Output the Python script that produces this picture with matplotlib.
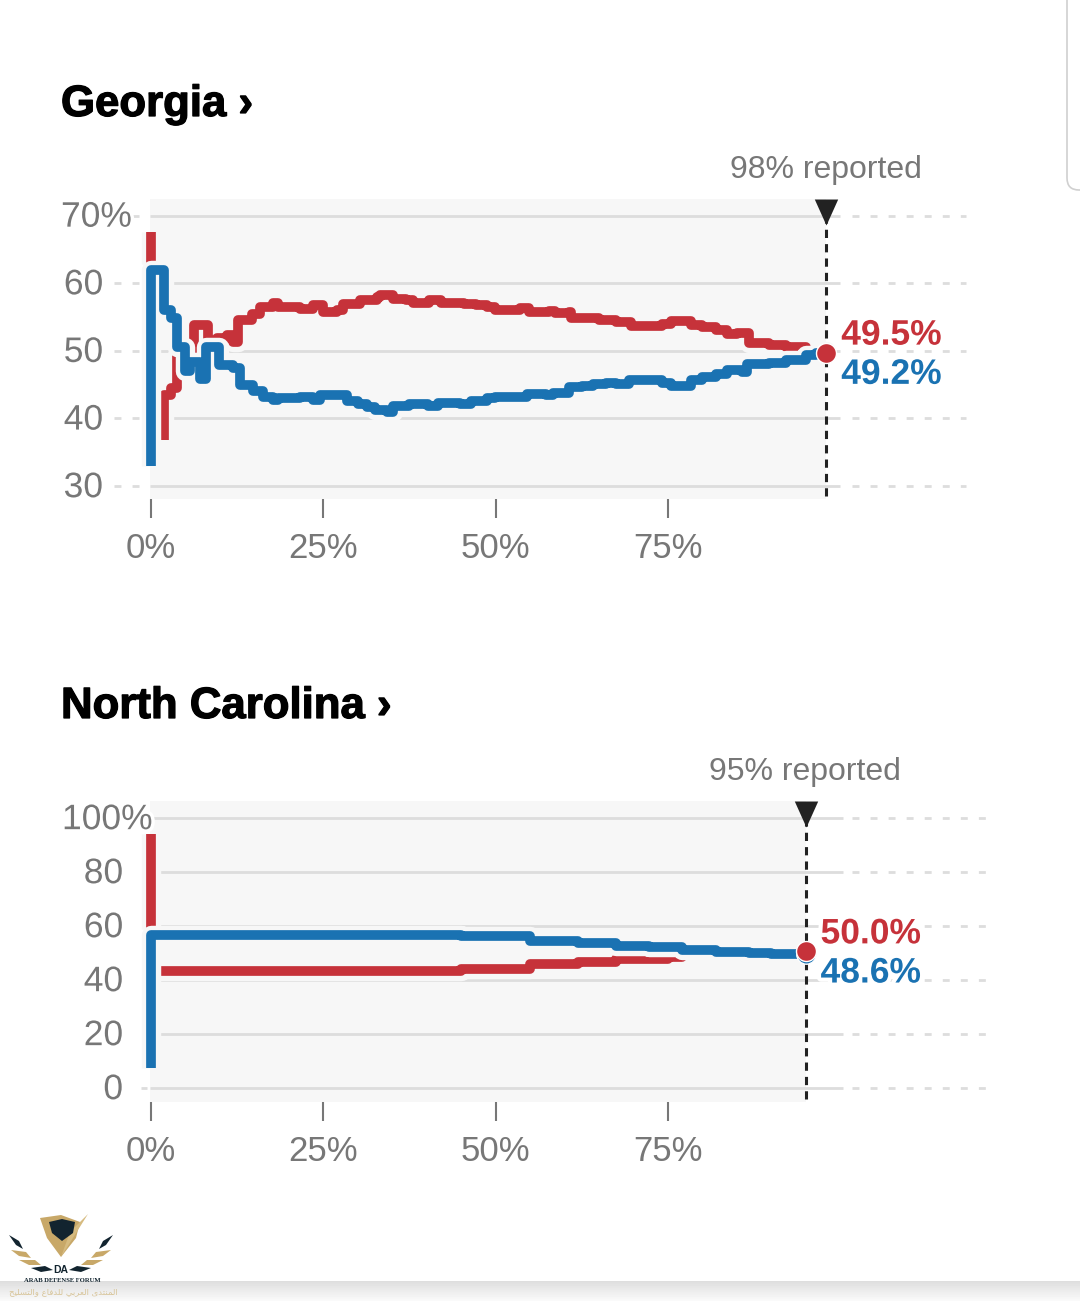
import numpy as np
import matplotlib
matplotlib.use('Agg')
import matplotlib.pyplot as plt
import matplotlib.patheffects as pe
from matplotlib.patches import FancyBboxPatch, Polygon

W, H = 1080, 1301

RED = '#c6323a'
BLUE = '#1a72b2'
GREY = '#777777'
GRID = '#dddddd'
PANEL = '#f7f7f7'

# Georgia
ga_blue_x = [0, 0, 1.9, 2.9, 3.8, 4.9, 5.6, 7.1, 8.0, 9.8, 11.9, 12.9, 14.8, 16.2, 17.7, 18.5, 21.6, 23.5, 24.5,
             27.4, 28.4, 30, 31.3, 32.5, 34.2, 35.1, 37.5, 40.2, 41.6, 44.8, 46.5, 48.7, 49.9, 53, 54.6, 57.4, 58.3,
             60.7, 62.6, 64.1, 66, 67.5, 69.4, 74.2, 75.5, 78.4, 80, 82, 83.6, 85.8, 86.5, 89.7, 92.2, 95, 96.5, 98]
ga_blue_y = [33, 62, 56, 54.9, 50.6, 47, 48.4, 45.8, 50.6, 47.9, 47.5, 45, 44, 43.2, 42.7, 43, 43.2, 42.7, 43.5,
             43.5, 42.5, 42.2, 41.7, 41.3, 41, 41.8, 42.1, 41.8, 42.3, 42.1, 42.6, 43, 43.2, 43.1, 43.6, 43.5, 43.7,
             44.6, 44.8, 45.1, 45.3, 45.1, 45.7, 45.2, 44.8, 45.7, 46.1, 46.6, 47.1, 46.9, 48.1, 48.2, 48.7, 49.4,
             49.6, 49.7]
ga_red_open_x = [0, 0]
ga_red_open_y = [67.6, 62.8]
ga_red_x = [1.9, 1.9, 2.9, 3.8, 4.9, 6.2, 8.3, 9.6, 11, 11.9, 12.6, 14.6, 15.8, 17.7, 18.5, 21.6, 23.5, 25,
            27, 27.8, 30.3, 32.8, 33.2, 35.1, 37, 38, 40.4, 42.1, 44.8, 45.5, 47.2, 48.7, 49.9, 53.5, 54.9, 57.8,
            58.6, 60.7, 61, 63.6, 65, 67.5, 69.7, 74.2, 75.5, 78.4, 80, 82, 83.6, 85.1, 86.8, 89.7, 92.2, 95, 98]
ga_red_y = [36.8, 43.4, 44.5, 49.4, 50, 53.8, 50, 51.9, 52.3, 51.3, 54.5, 55.5, 56.5, 57, 56.4, 56.2, 56.8, 55.8,
            56, 56.9, 57.5, 58, 58.2, 57.6, 57.5, 57.1, 57.5, 57, 57.1, 56.9, 56.8, 56.5, 56.1, 56.3, 55.8, 55.9,
            55.6, 55.8, 54.8, 54.9, 54.5, 54.3, 53.7, 54, 54.4, 53.8, 53.5, 53, 52.5, 52.6, 51.1, 50.9, 50.5, 50,
            49.75]
ga_yticks = [30, 40, 50, 60, 70]
ga_reported = 98

# North Carolina
nc_blue_x = [0, 0, 45, 55, 62, 67.5, 72.3, 77, 82, 86.8, 90, 95]
nc_blue_y = [7.4, 56.7, 56.3, 54.6, 53.6, 52.6, 52.2, 51, 50.5, 50, 49.6, 49.6]
nc_red_open_x = [0, 0]
nc_red_open_y = [94, 59]
nc_red_x = [0, 45, 55, 62, 67.5, 72.3, 75, 77, 79, 95]
nc_red_y = [43.4, 44, 45.9, 46.8, 47.7, 47.9, 48.6, 49.2, 49.8, 50.7]
nc_yticks = [0, 20, 40, 60, 80, 100]
nc_reported = 95

xticks = [0, 25, 50, 75]
xticklabels = ['0%', '25%', '50%', '75%']

PX_X = 6.89  # 每个百分点的像素宽度


def to_x(px):
    return (px - 151) / PX_X


def add_panel(fig, top, bottom, right, ymin, ymax):
    ax = fig.add_axes([151 / W, 1 - bottom / H, (right - 151) / W, (bottom - top) / H])
    ax.set_xlim(0, (right - 151) / PX_X)
    ax.set_ylim(ymin, ymax)
    ax.patch.set_alpha(0)
    for s in ax.spines.values():
        s.set_visible(False)
    ax.axvspan(to_x(150), ax.get_xlim()[1], color=PANEL, lw=0, zorder=0, clip_on=False)
    ax.set_yticks([])
    ax.set_xticks(xticks)
    ax.set_xticklabels(xticklabels, fontsize=25, color=GREY)
    ax.tick_params(axis='x', length=13.7, width=1.5, color=GREY, pad=10)
    return ax


def draw_grid(ax, yticks, right_px, end_px, left_from, left_to, left_ticks):
    dash = (0, (2.5, 4))
    for v in yticks:
        ax.plot([to_x(150), to_x(right_px + 14)], [v, v], color=GRID, lw=2, zorder=1, clip_on=False,
                solid_capstyle='butt')
        ax.plot([to_x(852), to_x(end_px)], [v, v], color=GRID, lw=2, zorder=1, clip_on=False,
                linestyle=dash, dash_capstyle='butt')
    for v in left_ticks:
        ax.plot([to_x(left_from), to_x(left_to)], [v, v], color=GRID, lw=2, zorder=1, clip_on=False,
                linestyle=dash, dash_capstyle='butt')


def draw_line(ax, x, y, color, z):
    ax.step(x, y, where='post', color=color, lw=7, zorder=z, clip_on=False,
            solid_joinstyle='round', solid_capstyle='butt',
            path_effects=[pe.Stroke(linewidth=14, foreground=PANEL), pe.Normal()])


def draw_ylabels(ax, yticks, num_right_px, top_left_px):
    halo = [pe.withStroke(linewidth=5, foreground='white')]
    for v in yticks:
        if v == yticks[-1]:
            ax.annotate(f'{v}%', (to_x(top_left_px), v), xytext=(0, -1.2), textcoords='offset points', fontsize=25.5,
                        color=GREY, ha='left', va='center', zorder=6, path_effects=halo, annotation_clip=False)
        else:
            ax.annotate(f'{v}', (to_x(num_right_px), v), xytext=(0, -1.2), textcoords='offset points', fontsize=25.5,
                        color=GREY, ha='right', va='center', zorder=6, path_effects=halo, annotation_clip=False)


def draw_end(ax, x, red_y, blue_y, marker_y, red_text, blue_text, red_label_y, blue_label_y):
    ax.plot([x, x], [ax.get_ylim()[0] + 0.01 * np.diff(ax.get_ylim())[0], marker_y], color='#222222', lw=2.2,
            linestyle=(0, (2.7, 2)), dash_capstyle='butt', zorder=4, clip_on=False)
    ax.plot([x], [marker_y], marker=[(-0.9, 1), (0.9, 1), (0, -1)], ms=18.7, color='#222222', mew=0,
            zorder=5, clip_on=False)
    ax.plot([x], [blue_y], 'o', ms=14, mfc=BLUE, mec='white', mew=1, zorder=7, clip_on=False)
    ax.plot([x], [red_y], 'o', ms=14.4, mfc=RED, mec='white', mew=1, zorder=8, clip_on=False)
    halo = [pe.withStroke(linewidth=6, foreground='white')]
    tx = x + 15 / PX_X
    ax.annotate(red_text, (tx, red_label_y), xytext=(0, -1.4), textcoords='offset points', fontsize=25.5,
                fontweight='bold', color=RED, va='center', ha='left', zorder=9, path_effects=halo,
                annotation_clip=False)
    ax.annotate(blue_text, (tx, blue_label_y), xytext=(0, -1.4), textcoords='offset points', fontsize=25.5,
                fontweight='bold', color=BLUE, va='center', ha='left', zorder=9, path_effects=halo,
                annotation_clip=False)


plt.rcParams['font.family'] = ['Liberation Sans', 'DejaVu Sans']

fig = plt.figure(figsize=(W / 100, H / 100), dpi=100, facecolor='white')

# 背景层：滚动条边框、底部阴影、水印
bg = fig.add_axes([0, 0, 1, 1], zorder=-1)
bg.set_xlim(0, W)
bg.set_ylim(H, 0)
bg.axis('off')
bg.add_patch(FancyBboxPatch((1067, -30), 40, 220, boxstyle='round,pad=0,rounding_size=12', fc='white',
                            ec='#d0d0d0', lw=1.2))
bg.imshow(np.linspace(0.87, 0.98, 20).reshape(-1, 1), extent=(0, W, 1301, 1281), cmap='gray', vmin=0, vmax=1,
          aspect='auto')
bg.set_xlim(0, W)
bg.set_ylim(H, 0)

GOLD = '#c8a868'
DARK = '#12242f'
bg.add_patch(Polygon([(40, 1218), (61, 1215), (80, 1222), (76, 1238), (61, 1257), (47, 1238)], fc=GOLD, lw=0))
bg.add_patch(Polygon([(61, 1257), (88, 1214), (70, 1232)], fc='#d6bb80', lw=0))
bg.add_patch(Polygon([(49, 1222), (62, 1219), (75, 1222), (73, 1233), (62, 1241), (52, 1233)], fc=DARK, lw=0))
for side in (-1, 1):
    wings = [([(-52, 1235), (-42, 1241), (-38, 1249), (-45, 1245)], DARK),
             ([(-50, 1250), (-35, 1252), (-30, 1258), (-42, 1256)], GOLD),
             ([(-42, 1260), (-26, 1260), (-20, 1265), (-32, 1265)], GOLD),
             ([(-30, 1268), (-16, 1266), (-8, 1270), (-20, 1272)], DARK)]
    for pts, col in wings:
        bg.add_patch(Polygon([(61 + side * -px, py) for px, py in pts], fc=col, lw=0))
bg.text(61, 1270, 'DA', fontsize=7.5, fontweight='bold', color=DARK, ha='center', va='center')
bg.text(62, 1280, 'ARAB DEFENSE FORUM', fontsize=4.8, fontweight='bold', color=DARK, ha='center', va='center',
        family=['Liberation Serif'])
bg.text(63, 1292, 'ﺢﻴﻠﺴﺘﻟﺍﻭ ﻉﺎﻓﺪﻠﻟ ﻲﺑﺮﻌﻟﺍ ﻯﺪﺘﻨﻤﻟﺍ', fontsize=6.1, color='#d8c59a', ha='center', va='center',
        family=['DejaVu Sans'])

# 标题
title_font = ['Liberation Sans']
heavy = [pe.withStroke(linewidth=0.9, foreground='black')]
bg.text(61, 116, 'Georgia ›', fontsize=31.5, fontweight='bold', color='black', ha='left', va='baseline',
        family=title_font, path_effects=heavy)
bg.text(61, 718, 'North Carolina ›', fontsize=31.5, fontweight='bold', color='black', ha='left', va='baseline',
        family=title_font, path_effects=heavy)
bg.text(826, 170, f'{ga_reported}% reported', fontsize=23, color=GREY, ha='center', va='center')
bg.text(805, 772, f'{nc_reported}% reported', fontsize=23, color=GREY, ha='center', va='center')

# Georgia 面板
ax1 = add_panel(fig, 199, 499, 826, 28.08, 72.44)
draw_grid(ax1, ga_yticks, 826, 966, 114, 139, ga_yticks)
draw_line(ax1, ga_red_open_x, ga_red_open_y, RED, 2)
draw_line(ax1, ga_red_x, ga_red_y, RED, 2)
draw_line(ax1, ga_blue_x, ga_blue_y, BLUE, 3)
draw_ylabels(ax1, ga_yticks, 103, 61)
draw_end(ax1, ga_reported, 49.7, 49.6, 70.5, '49.5%', '49.2%', 52.6, 46.8)

# North Carolina 面板
ax2 = add_panel(fig, 801, 1102, 805.5, -5.19, 106.3)
draw_grid(ax2, nc_yticks, 829, 993, 141, 147, [0])
draw_line(ax2, nc_red_open_x, nc_red_open_y, RED, 2)
draw_line(ax2, nc_red_x, nc_red_y, RED, 2)
draw_line(ax2, nc_blue_x, nc_blue_y, BLUE, 3)
draw_ylabels(ax2, nc_yticks, 123, 62)
draw_end(ax2, nc_reported, 50.7, 49.8, 101.5, '50.0%', '48.6%', 57.8, 43.3)

fig.savefig('out.png', dpi=100)
